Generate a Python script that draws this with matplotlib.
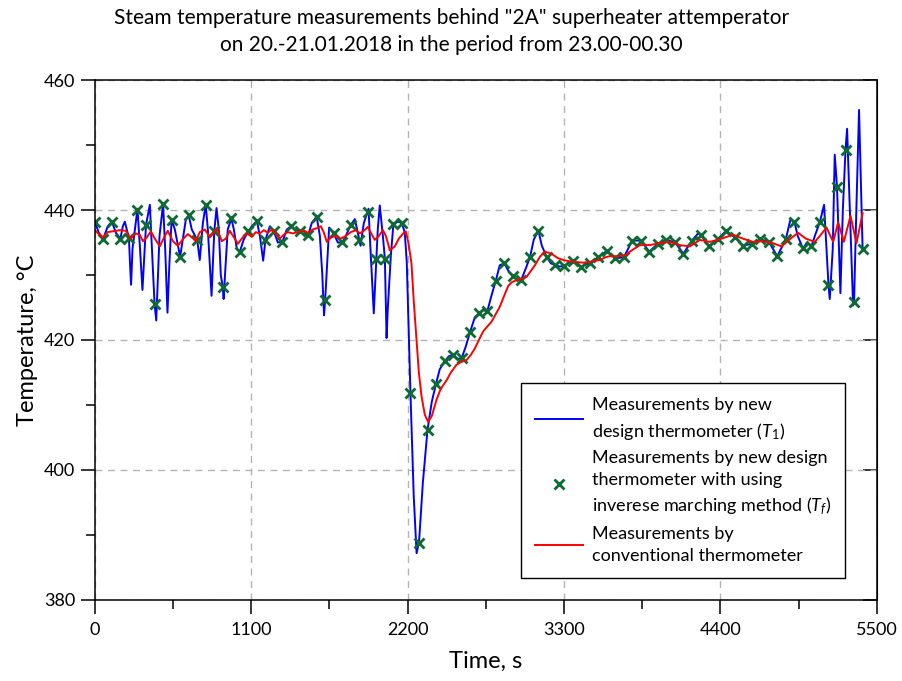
import numpy as np
import matplotlib
matplotlib.use('Agg')
import matplotlib.pyplot as plt

plt.rcParams['font.family'] = ['Lato', 'DejaVu Sans']
plt.rcParams['mathtext.fontset'] = 'custom'
plt.rcParams['mathtext.rm'] = 'Lato'
plt.rcParams['mathtext.it'] = 'Lato:italic'

# T_f markers, one every 60 s from 0 to 5400 s
marker_t = np.arange(0, 5401, 60)
marker_v = [438.2, 435.6, 438.2, 435.6, 435.7, 440.0, 437.7, 425.6, 440.9, 438.5,
            432.8, 439.2, 435.4, 440.7, 436.7, 428.1, 438.7, 433.6, 436.7, 438.3,
            435.4, 436.7, 435.1, 437.5, 436.7, 436.1, 439.0, 426.1, 436.4, 435.0,
            437.7, 435.4, 439.7, 432.5, 432.5, 437.8, 438.0, 411.8, 388.8, 406.2,
            413.3, 416.7, 417.7, 417.2, 421.3, 424.1, 424.4, 429.1, 431.8, 429.9,
            429.3, 432.7, 436.8, 432.7, 431.5, 431.4, 432.2, 431.2, 431.9, 432.7,
            433.7, 432.6, 432.7, 435.3, 435.3, 433.6, 434.8, 435.4, 435.0, 433.3,
            435.3, 436.2, 434.5, 435.5, 436.8, 435.8, 434.5, 434.8, 435.5, 435.1,
            432.9, 435.5, 438.2, 434.1, 434.4, 438.2, 428.5, 443.6, 449.3, 425.9,
            434.0]

# T1 - new design thermometer (markers plus peaks/dips between them)
blue_t = [0, 28, 60, 91, 120, 148, 180, 197, 211, 240, 247, 255, 265, 300, 318, 335,
          360, 387, 420, 432, 455, 480, 495, 511, 525, 540, 563, 600, 640, 660, 682,
          720, 738, 760, 780, 795, 821, 840, 856, 872, 886, 900, 906, 921, 935, 960,
          978, 999, 1020, 1048, 1080, 1104, 1140, 1161, 1184, 1200, 1231, 1260, 1287,
          1320, 1350, 1380, 1407, 1440, 1470, 1500, 1526, 1560, 1583, 1600, 1612, 1620,
          1648, 1680, 1709, 1740, 1765, 1800, 1829, 1860, 1869, 1892, 1925, 1941, 1962,
          1980, 1990, 2004, 2026, 2040, 2052, 2061, 2082, 2100, 2131, 2160, 2180, 2194,
          2220, 2243, 2263, 2280, 2307, 2340, 2370, 2400, 2426, 2460, 2490, 2520, 2553,
          2580, 2609, 2640, 2673, 2700, 2729, 2760, 2792, 2820, 2848, 2880, 2912, 2940,
          2968, 3000, 3031, 3060, 3088, 3120, 3144, 3180, 3207, 3240, 3270, 3300, 3360,
          3420, 3480, 3540, 3600, 3660, 3720, 3780, 3840, 3900, 3960, 4020, 4080, 4140,
          4200, 4243, 4260, 4320, 4380, 4440, 4500, 4560, 4620, 4680, 4740, 4800, 4860,
          4893, 4920, 4944, 4980, 5010, 5040, 5064, 5100, 5129, 5160, 5169, 5190, 5204,
          5220, 5244, 5261, 5280, 5291, 5310, 5333, 5340, 5356, 5375, 5400]
blue_v = [438.2, 436.5, 435.6, 437.5, 438.2, 436.5, 435.6, 437.5, 438.2, 435.7, 432.0,
          428.5, 434.0, 440.2, 434.0, 427.7, 437.7, 440.8, 425.6, 423.0, 436.0, 440.9,
          434.0, 424.2, 432.0, 438.5, 437.0, 432.8, 438.5, 439.2, 437.0, 435.4, 432.3,
          438.0, 440.8, 437.0, 426.8, 436.7, 440.3, 437.0, 430.0, 428.1, 426.3, 432.0,
          437.0, 438.7, 437.0, 434.0, 433.6, 435.5, 436.7, 437.5, 438.3, 436.0, 432.2,
          435.4, 437.5, 436.7, 435.0, 435.1, 437.0, 437.5, 437.0, 436.7, 436.3, 436.1,
          438.0, 439.0, 436.0, 430.0, 423.8, 426.1, 437.3, 436.4, 435.0, 435.0, 436.0,
          437.7, 438.6, 435.4, 434.5, 438.0, 440.2, 433.0, 424.1, 432.5, 437.0, 440.7,
          436.0, 432.5, 420.3, 425.0, 433.0, 437.8, 438.2, 438.0, 436.5, 432.0, 411.8,
          396.0, 387.2, 388.8, 398.0, 406.2, 410.5, 413.3, 415.5, 416.7, 417.5, 417.7,
          417.1, 417.2, 419.0, 421.3, 423.5, 424.1, 424.6, 424.4, 427.0, 429.1, 431.5,
          431.8, 430.5, 429.9, 429.3, 429.3, 431.0, 432.7, 435.5, 436.8, 434.5, 432.7,
          431.8, 431.5, 431.3, 431.4, 432.2, 431.2, 431.9, 432.7, 433.7, 432.6, 432.7,
          435.3, 435.3, 433.6, 434.8, 435.4, 435.0, 433.3, 435.3, 436.4, 436.2, 434.5,
          435.5, 436.8, 435.8, 434.5, 434.8, 435.5, 435.1, 432.9, 435.5, 438.6, 438.2,
          436.0, 434.1, 435.0, 434.4, 436.0, 438.2, 440.8, 428.5, 426.3, 434.0, 448.5,
          443.6, 427.2, 440.0, 449.3, 452.5, 440.0, 425.3, 425.9, 440.0, 455.4, 434.0]

# conventional thermometer
red_t = [0, 28, 56, 91, 120, 176, 218, 253, 288, 316, 338, 366, 394, 422, 457, 492,
         513, 549, 584, 619, 654, 682, 710, 738, 774, 809, 837, 858, 893, 921, 949,
         978, 1006, 1041, 1069, 1104, 1132, 1160, 1189, 1217, 1245, 1273, 1301, 1329,
         1357, 1393, 1428, 1463, 1498, 1533, 1561, 1590, 1611, 1632, 1660, 1695, 1730,
         1765, 1800, 1836, 1864, 1892, 1920, 1941, 1969, 1997, 2026, 2047, 2075, 2110,
         2138, 2173, 2188, 2205, 2227, 2243, 2263, 2279, 2298, 2321, 2344, 2370, 2403,
         2433, 2474, 2504, 2544, 2574, 2614, 2644, 2673, 2701, 2731, 2757, 2790, 2820,
         2848, 2877, 2907, 2933, 2966, 2996, 3036, 3066, 3095, 3130, 3165, 3193, 3223,
         3256, 3294, 3341, 3388, 3432, 3481, 3516, 3552, 3587, 3622, 3692, 3740, 3763,
         3833, 3903, 3974, 4044, 4114, 4185, 4255, 4325, 4396, 4487, 4557, 4628, 4698,
         4768, 4830, 4888, 4946, 5000, 5064, 5099, 5146, 5193, 5228, 5268, 5315, 5357,
         5400]
red_v = [436.9, 436.3, 435.8, 436.6, 436.7, 436.9, 436.8, 435.6, 436.4, 436.2, 435.2,
         435.8, 436.7, 435.6, 434.4, 436.0, 436.8, 435.2, 434.5, 435.5, 436.3, 435.8,
         435.2, 436.6, 437.0, 435.8, 436.6, 437.2, 435.2, 435.6, 436.8, 435.8, 434.8,
         435.8, 436.4, 435.9, 436.6, 436.4, 436.9, 436.5, 437.0, 436.3, 435.6, 436.2,
         436.6, 436.4, 436.6, 436.9, 436.5, 437.0, 437.2, 437.5, 436.5, 435.1, 435.8,
         436.0, 435.6, 436.0, 436.6, 436.9, 436.4, 436.8, 437.4, 436.5, 435.4, 436.0,
         436.9, 436.0, 433.8, 434.4, 435.6, 436.5, 436.7, 435.0, 431.8, 426.0, 420.0,
         415.0, 411.3, 408.5, 407.4, 408.3, 410.8, 412.5, 413.8, 415.0, 416.2, 416.6,
         416.9, 417.7, 418.7, 420.0, 421.3, 422.0, 422.8, 424.0, 425.1, 426.7, 428.3,
         428.9, 429.2, 429.4, 429.7, 430.6, 431.5, 432.8, 433.6, 433.4, 433.1, 432.6,
         432.3, 432.1, 432.0, 431.9, 432.0, 432.2, 432.3, 432.7, 432.9, 432.9, 433.1,
         433.6, 434.6, 434.6, 434.9, 435.1, 434.6, 434.4, 435.4, 435.1, 435.5, 436.2,
         435.6, 435.1, 435.2, 434.9, 434.4, 435.5, 436.5, 435.6, 435.1, 436.0, 437.3,
         435.1, 438.1, 435.1, 439.1, 434.9, 439.5]

x_ticks = [0, 1100, 2200, 3300, 4400, 5500]
y_ticks = [380, 400, 420, 440, 460]

fig = plt.figure(figsize=(9.03, 6.81), dpi=100)
ax = fig.add_axes([0.105, 0.119, 0.866, 0.7635])

ax.plot(blue_t, blue_v, color='#0000ff', lw=1.4,
        label='Measurements by new\ndesign thermometer ($\\mathit{T}_{1}$)')
ax.plot(marker_t, marker_v, 'x', color='#0b6b30', ms=6.5, mew=2.0,
        label='Measurements by new design\nthermometer with using\ninverese marching method ($\\mathit{T}_{f}$)')
ax.plot(red_t, red_v, color='#ff0000', lw=1.4,
        label='Measurements by\nconventional thermometer')

ax.set_xlim(0, 5500)
ax.set_ylim(380, 460)
ax.set_xticks(x_ticks)
ax.set_yticks(y_ticks)
ax.set_xticks([550, 1650, 2750, 3850, 4950], minor=True)
ax.set_yticks([390, 410, 430, 450], minor=True)
ax.grid(True, which='major', color='#b4b4b4', ls=(0, (5, 4)), lw=1.0)
ax.tick_params(which='major', direction='out', length=10, width=1.1, labelsize=13)
ax.tick_params(axis='x', which='major', pad=6)
ax.tick_params(axis='y', which='major', pad=4)
ax.tick_params(which='minor', direction='out', length=6.5, width=1.1)
for s in ax.spines.values():
    s.set_linewidth(1.1)

sec = ax.secondary_yaxis('right')
sec.set_yticks(y_ticks)
sec.tick_params(direction='in', length=10, width=1.1, labelright=False)

ax.set_xlabel('Time, s', fontsize=17, labelpad=9)
ax.set_ylabel('Temperature, °C', fontsize=17, labelpad=4)
fig.text(0.5, 0.988, 'Steam temperature measurements behind "2A" superheater attemperator\n'
         'on 20.-21.01.2018 in the period from 23.00-00.30',
         ha='center', va='top', fontsize=15, linespacing=1.45)

leg = ax.legend(loc='upper left', bbox_to_anchor=(0.545, 0.417), fontsize=13,
                frameon=True, fancybox=False, edgecolor='black', framealpha=1,
                handlelength=2.7, handletextpad=0.5, labelspacing=0.45,
                borderpad=0.75, borderaxespad=0)
leg.get_frame().set_linewidth(1.0)
for txt in leg.get_texts():
    txt.set_linespacing(1.5)

fig.savefig('out.png', dpi=100)
